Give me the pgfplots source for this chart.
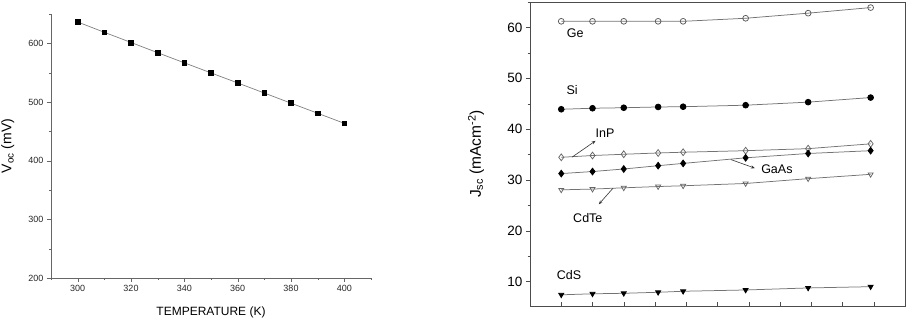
\documentclass[border=0pt]{standalone}
\usepackage{fontspec}
\setmainfont{Liberation Sans}
\usepackage{pgfplots}
\pgfplotsset{compat=1.18}
\usetikzlibrary{arrows.meta}

% V_oc against temperature
\pgfplotstableread{
T    voc
300  636.4
310  618.8
320  601.5
330  584.0
340  566.8
350  549.6
360  532.5
370  515.3
380  498.0
390  480.8
400  463.6
}\vocdata

% J_sc against temperature, one table per material
\pgfplotstableread{
T    j
300  61.2
310  61.2
320  61.2
331  61.2
339  61.2
359  61.8
379  62.8
399  63.9
}\Ge
\pgfplotstableread{
T    j
300  43.9
310  44.1
320  44.2
331  44.35
339  44.4
359  44.7
379  45.3
399  46.2
}\Si
\pgfplotstableread{
T    j
300  34.45
310  34.8
320  35.05
331  35.3
339  35.45
359  35.75
379  36.15
399  37.1
}\InP
\pgfplotstableread{
T    j
300  31.25
310  31.65
320  32.15
331  32.8
339  33.25
359  34.35
379  35.2
399  35.75
}\GaAs
\pgfplotstableread{
T    j
300  28.05
310  28.2
320  28.45
331  28.7
339  28.85
359  29.3
379  30.25
399  31.1
}\CdTe
\pgfplotstableread{
T    j
300  7.4
310  7.6
320  7.7
331  7.9
339  8.1
359  8.35
379  8.75
399  9.0
}\CdS

\begin{document}
\begin{tikzpicture}
\path[use as bounding box] (0,0) rectangle (907pt,323pt);

% ---- left: V_oc ----
\begin{axis}[
  at={(51pt,45pt)}, anchor=south west,
  scale only axis, width=320pt, height=264pt,
  xmin=290, xmax=410, ymin=200, ymax=650,
  axis x line*=bottom, axis y line*=left,
  axis line style={black!60, -},
  xtick={300,320,...,400}, minor xtick={290,310,...,410},
  ytick={200,300,...,600}, minor ytick={250,350,...,650},
  tick align=outside, major tick length=4pt, minor tick length=2pt,
  tick style={black!60},
  tick label style={font=\fontsize{9}{10}\selectfont, black!85},
  /pgf/number format/assume math mode=true,
  /pgf/number format/1000 sep={},
  xlabel={TEMPERATURE (K)},
  xlabel style={font=\fontsize{12}{14}\selectfont, at={(axis description cs:0.5,-0.13)}, anchor=center},
  ylabel={V\textsubscript{oc} (mV)},
  ylabel style={font=\fontsize{14}{16}\selectfont, at={(axis description cs:-0.135,0.5)}, anchor=center, rotate=0},
]
\addplot[black!50, line width=0.7pt, mark=square*, mark size=2.4pt,
  mark options={fill=black, draw=black, solid}] table[x=T, y=voc] {\vocdata};
\end{axis}

% ---- right: J_sc ----
\begin{axis}[
  at={(530pt,17pt)}, anchor=south west,
  scale only axis, width=375pt, height=304pt,
  xmin=290, xmax=410, ymin=5.2, ymax=65,
  axis line style={black!70, line width=0.8pt},
  xtick={300,310,...,400}, xticklabels={},
  ytick={10,20,...,60}, minor ytick={15,25,...,65},
  xtick pos=bottom, ytick pos=left,
  xtick align=inside, ytick align=outside,
  major tick length=4pt, minor tick length=2.5pt,
  tick style={black!70},
  yticklabel style={font=\fontsize{13.5}{15}\selectfont},
  /pgf/number format/assume math mode=true,
  ylabel={J\textsubscript{sc} (mAcm\textsuperscript{-2})},
  ylabel style={font=\fontsize{15.5}{17}\selectfont, at={(axis description cs:-0.144,0.5)}, anchor=center},
  every axis plot/.append style={black!55, line width=0.75pt, mark size=2.9pt},
]
\addplot[mark=o, mark options={draw=black!65, fill=white}] table[x=T, y=j] {\Ge};
\addplot[mark=*, mark options={draw=black, fill=black}] table[x=T, y=j] {\Si};
\addplot[mark=diamond, mark size=3.4pt, mark options={draw=black!60, fill=white}] table[x=T, y=j] {\InP};
\addplot[mark=diamond*, mark size=3.4pt, mark options={draw=black, fill=black}] table[x=T, y=j] {\GaAs};
\addplot[mark=triangle, mark options={draw=black!60, fill=white, rotate=180}] table[x=T, y=j] {\CdTe};
\addplot[mark=triangle*, mark options={draw=black, fill=black, rotate=180}] table[x=T, y=j] {\CdS};

\begin{scope}[every node/.style={font=\fontsize{12.5}{14}\selectfont}]
\node at (axis cs:304.5,58.9) {Ge};
\node at (axis cs:303.5,47.6) {Si};
\node at (axis cs:314,39.2) {InP};
\node at (axis cs:369,32.2) {GaAs};
\node at (axis cs:308.5,22.5) {CdTe};
\node at (axis cs:302.5,11.2) {CdS};
\end{scope}
\draw[-{Stealth[length=4pt]}, black!80, line width=0.6pt] (axis cs:303.5,34.5) -- (axis cs:311,37.7);
\draw[-{Stealth[length=4pt]}, black!80, line width=0.6pt] (axis cs:354.3,34.0) -- (axis cs:362,32.3);
\draw[-{Stealth[length=4pt]}, black!80, line width=0.6pt] (axis cs:316.6,28.4) -- (axis cs:312,25.2);
\end{axis}
\end{tikzpicture}
\end{document}
